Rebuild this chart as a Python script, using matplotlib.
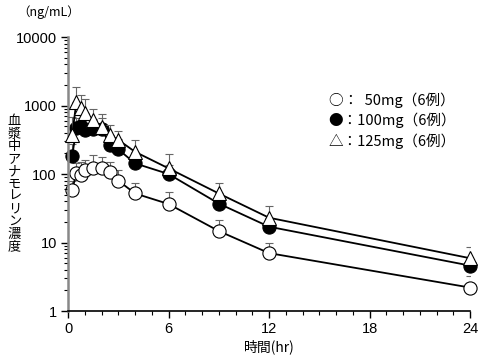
import numpy as np
import matplotlib
matplotlib.use("Agg")
import matplotlib.pyplot as plt
from matplotlib.ticker import FixedLocator, MultipleLocator, LogLocator, NullFormatter

plt.rcParams['font.family'] = ['Liberation Sans', 'Noto Sans CJK JP']

# time (hr)
TIME = [0.25, 0.5, 0.75, 1, 1.5, 2, 2.5, 3, 4, 6, 9, 12, 24]

# mean plasma anamorelin (ng/mL) and upper SD
MG50 = [58, 105, 97, 114, 121, 121, 108, 80, 52, 36.5, 14.7, 7.0, 2.2]
SD50 = [20, 40, 54, 46, 68, 57, 42, 35, 21, 17.5, 6.3, 2.9, 1.04]
MG100 = [183, 465, 500, 437, 450, 460, 266, 229, 143, 100, 37, 17, 4.6]
SD100 = [90, 200, 220, 170, 180, 190, 110, 90, 55, 35, 12, 5, 1.5]
MG125 = [370, 1140, 910, 770, 615, 490, 370, 315, 211, 121, 52, 23, 5.9]
SD125 = [320, 710, 510, 490, 285, 260, 150, 112, 104, 73, 21, 11, 2.6]

LEGEND = ["○：  50mg（6例）", "●：100mg（6例）", "△：125mg（6例）"]

fig = plt.figure(figsize=(4.81, 3.61), dpi=100)
ax = fig.add_axes([0.1414, 0.1385, 0.8358, 0.759])

series = [
    (MG50, SD50, "o", "white", 1),
    (MG100, SD100, "o", "black", 2),
    (MG125, SD125, "^", "white", 3),
]
for y, sd, mk, fc, z in series:
    ax.errorbar(TIME, y, yerr=[np.zeros(len(sd)), sd], fmt="none",
                ecolor="#666666", elinewidth=0.8, capsize=3, capthick=0.8, zorder=z)
    ax.plot(TIME, y, color="black", lw=1.3, marker=mk, ms=9.5 if mk == "o" else 10.5,
            mfc=fc, mec="black", mew=0.8, zorder=z + 0.5, clip_on=False)

ax.set_yscale("log")
ax.set_ylim(1, 10000)
ax.set_xlim(0, 24)
ax.xaxis.set_major_locator(FixedLocator([0, 6, 12, 18, 24]))
ax.xaxis.set_minor_locator(MultipleLocator(1))
ax.yaxis.set_major_locator(FixedLocator([1, 10, 100, 1000, 10000]))
ax.yaxis.set_minor_locator(LogLocator(base=10, subs=np.arange(2, 10)))
ax.yaxis.set_minor_formatter(NullFormatter())
ax.set_yticklabels(["1", "10", "100", "1000", "10000"])

for s in ["top", "right"]:
    ax.spines[s].set_visible(False)
ax.spines["left"].set_color("#888888")
ax.spines["left"].set_linewidth(1.8)
ax.spines["bottom"].set_linewidth(1.2)

ax.tick_params(axis="both", which="major", direction="out", length=5, width=1,
               labelsize=10.5, pad=3)
ax.tick_params(axis="both", which="minor", direction="out", length=3, width=0.8)

ax.set_xlabel("時間(hr)", fontsize=10, labelpad=2, family=["Noto Sans CJK JP"])

fig.text(0.035, 0.965, "（ng/mL）", fontsize=9, ha="left", va="center",
         family=["Noto Sans CJK JP"])
fig.text(0.03, 0.49, "\n".join("血漿中アナモレリン濃度"), fontsize=9.5,
         ha="center", va="center", linespacing=0.95, family=["Noto Sans CJK JP"])

for i, lab in enumerate(LEGEND):
    fig.text(0.683, 0.722 - i * 0.056, lab, fontsize=10.5, ha="left", va="center",
             family=["Noto Sans CJK JP"])

fig.savefig("out.png", dpi=100)
